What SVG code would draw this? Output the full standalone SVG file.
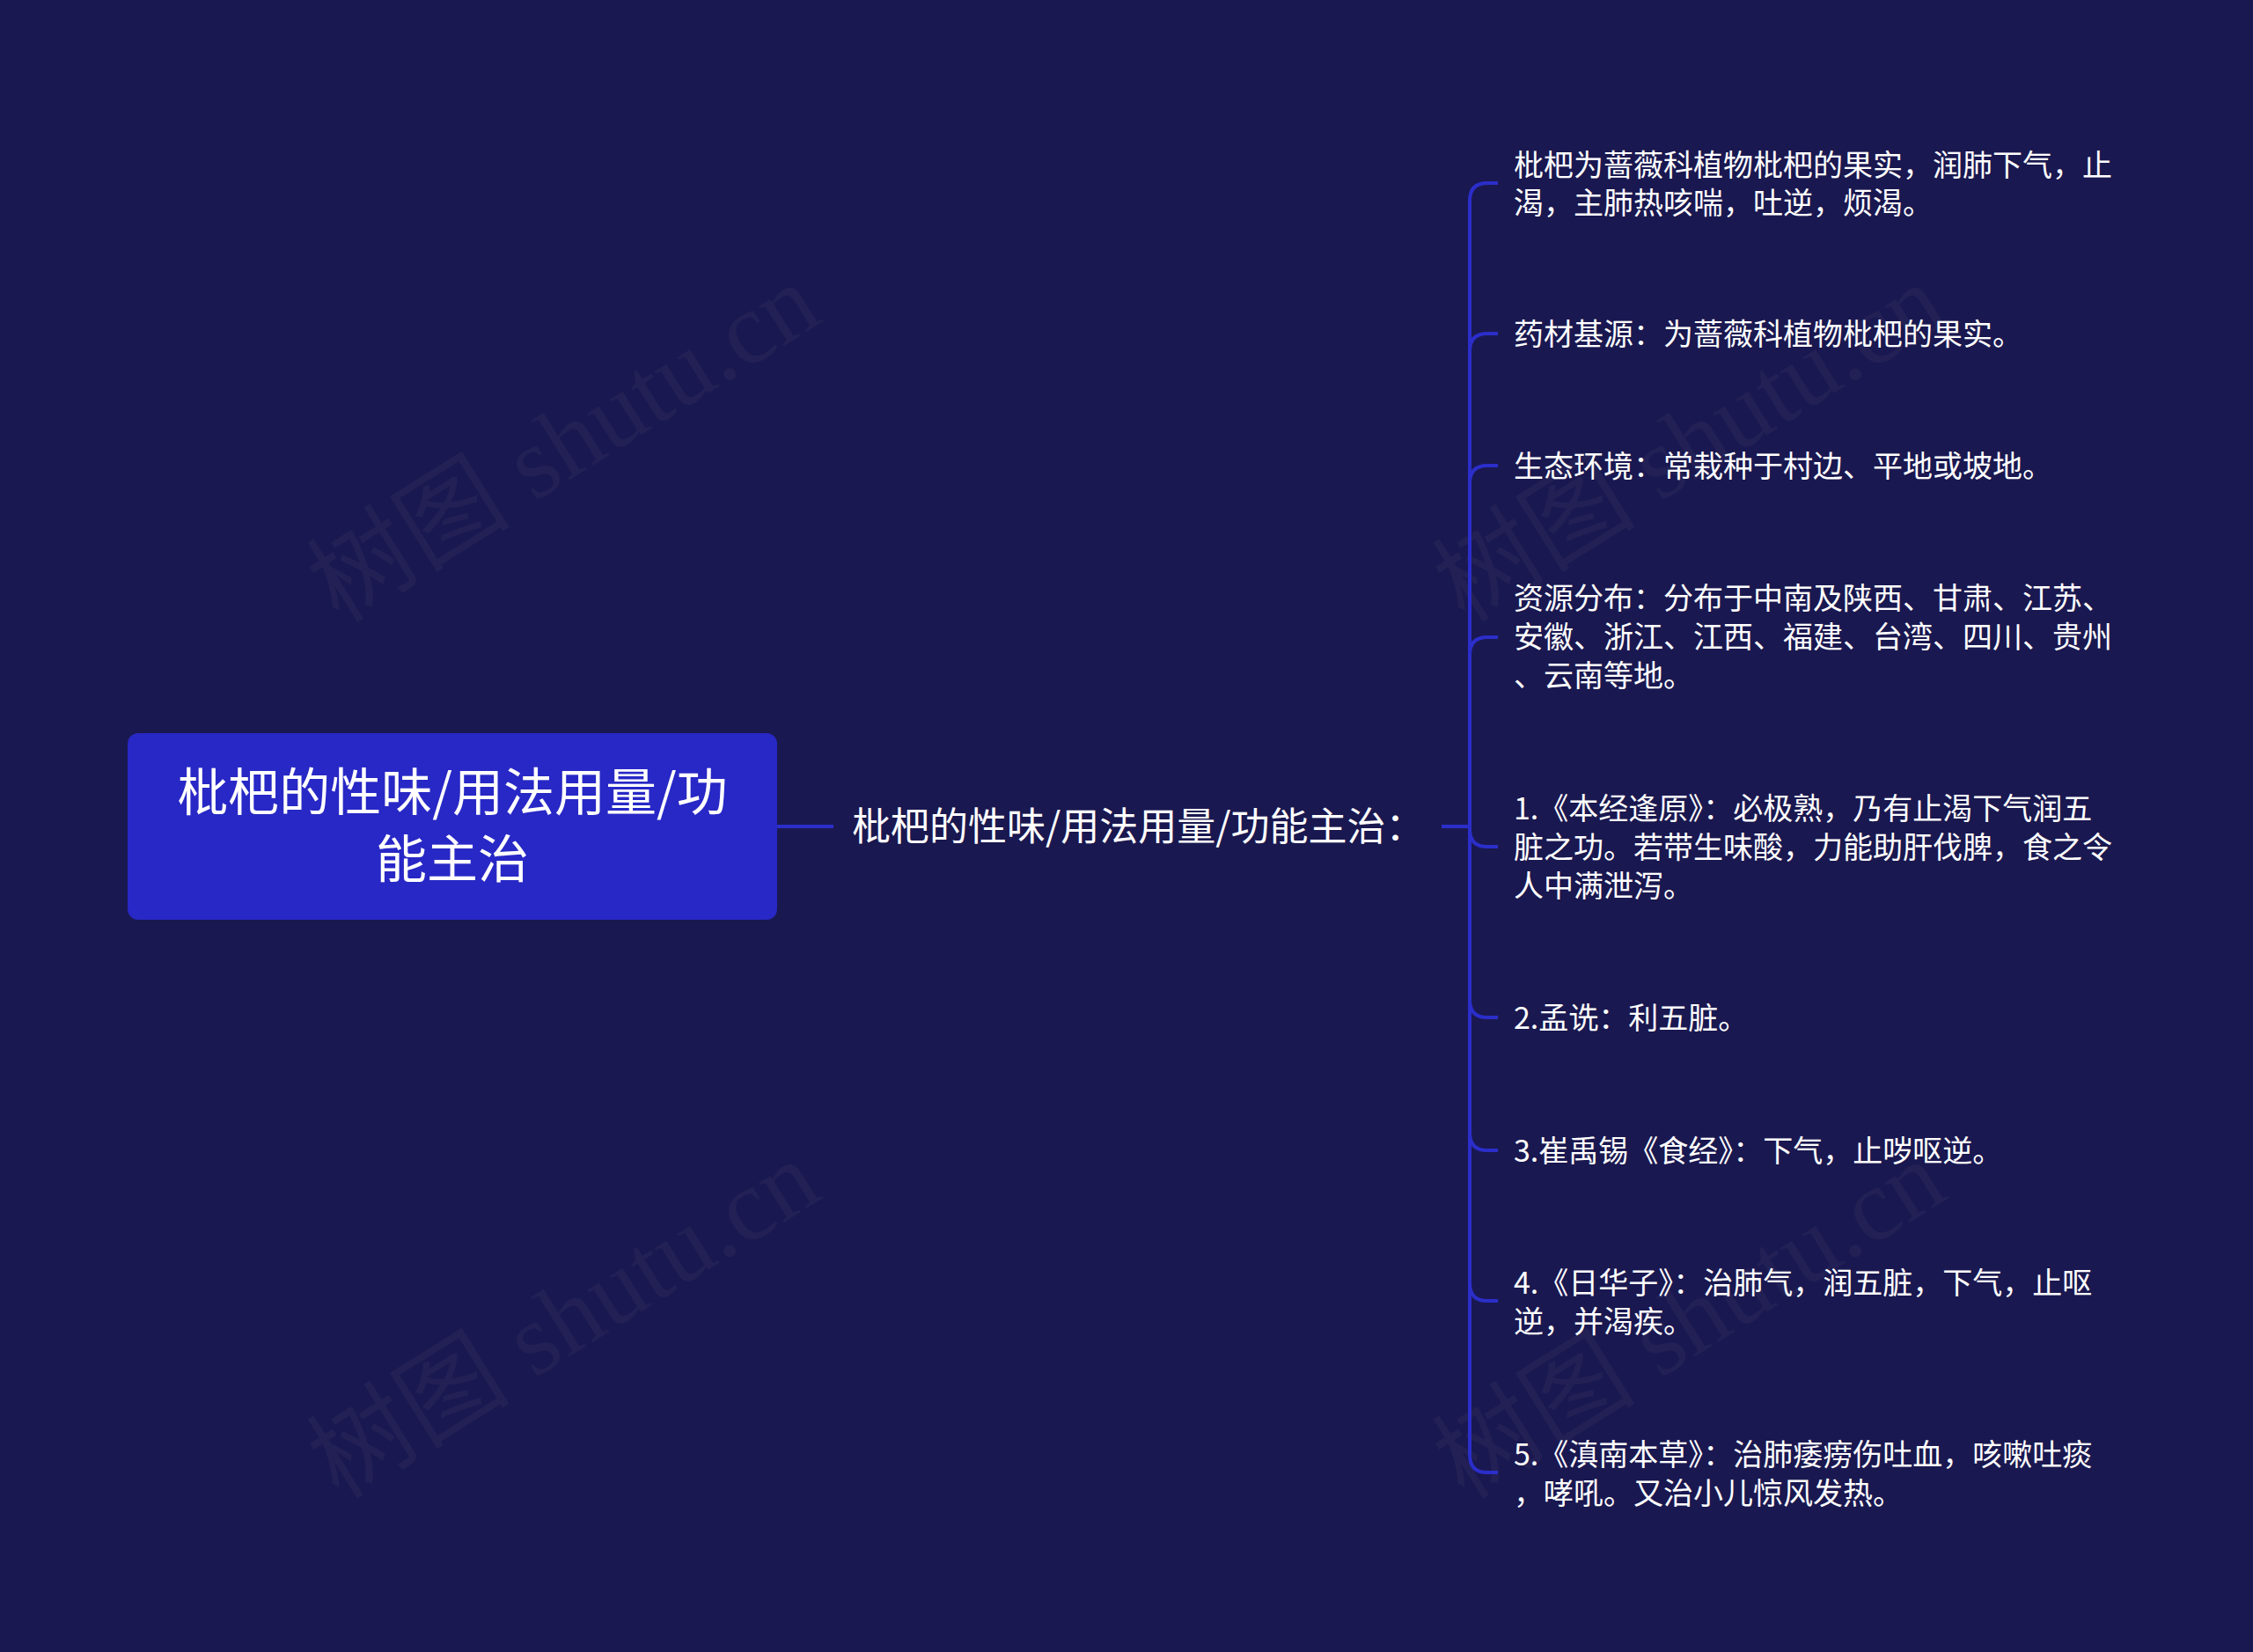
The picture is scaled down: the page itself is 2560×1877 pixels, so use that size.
<svg xmlns="http://www.w3.org/2000/svg" width="2560" height="1877" viewBox="0 0 2560 1877">
<style>
.bg{fill:#1a1850}
.wm{font-family:"Liberation Serif","Noto Sans CJK SC",serif;font-size:116px;fill:#8a8aa0;fill-opacity:0.07}
.root rect{fill:#2828c6}
.rt{font-family:"Noto Sans CJK SC","Noto Sans",sans-serif;font-size:58px;fill:#ffffff;text-anchor:middle}
.mt{font-family:"Noto Sans CJK SC","Noto Sans",sans-serif;font-size:44px;fill:#ffffff}
.lt{font-family:"Noto Sans CJK SC","Noto Sans",sans-serif;font-size:34px;fill:#ffffff}
.conn path{fill:none;stroke:#2b2ec9;stroke-width:4;stroke-linecap:butt}
</style>
<rect class="bg" x="0" y="0" width="2560" height="1877"/>
<g id="watermarks">
<text class="wm" transform="translate(647,514) rotate(-32)" text-anchor="middle" dominant-baseline="middle">树图 shutu.cn</text>
<text class="wm" transform="translate(1926,514) rotate(-32)" text-anchor="middle" dominant-baseline="middle">树图 shutu.cn</text>
<text class="wm" transform="translate(647,1510) rotate(-32)" text-anchor="middle" dominant-baseline="middle">树图 shutu.cn</text>
<text class="wm" transform="translate(1926,1510) rotate(-32)" text-anchor="middle" dominant-baseline="middle">树图 shutu.cn</text>
</g>
<g id="connectors" class="conn">
<path d="M883,939 H947"/>
<path d="M1638,939 H1670 V228 Q1670,208 1690,208 H1702"/>
<path d="M1638,939 H1670 V399 Q1670,379 1690,379 H1702"/>
<path d="M1638,939 H1670 V549 Q1670,529 1690,529 H1702"/>
<path d="M1638,939 H1670 V744 Q1670,724 1690,724 H1702"/>
<path d="M1638,939 H1670 V942 Q1670,962 1690,962 H1702"/>
<path d="M1638,939 H1670 V1136 Q1670,1156 1690,1156 H1702"/>
<path d="M1638,939 H1670 V1287 Q1670,1307 1690,1307 H1702"/>
<path d="M1638,939 H1670 V1458 Q1670,1478 1690,1478 H1702"/>
<path d="M1638,939 H1670 V1653 Q1670,1673 1690,1673 H1702"/>
</g>
<g id="root" class="root">
<rect x="145" y="833" width="738" height="212" rx="12" ry="12"/>
<text class="rt" x="514" y="921">枇杷的性味/用法用量/功</text>
<text class="rt" x="514" y="997">能主治</text>
</g>
<g id="main">
<text class="mt" x="968" y="955">枇杷的性味/用法用量/功能主治：</text>
</g>
<g id="leaf1"><text class="lt" x="1720" y="200">枇杷为蔷薇科植物枇杷的果实，润肺下气，止</text><text class="lt" x="1720" y="243">渴，主肺热咳喘，吐逆，烦渴。</text></g>
<g id="leaf2"><text class="lt" x="1720" y="392">药材基源：为蔷薇科植物枇杷的果实。</text></g>
<g id="leaf3"><text class="lt" x="1720" y="542">生态环境：常栽种于村边、平地或坡地。</text></g>
<g id="leaf4"><text class="lt" x="1720" y="692">资源分布：分布于中南及陕西、甘肃、江苏、</text><text class="lt" x="1720" y="736">安徽、浙江、江西、福建、台湾、四川、贵州</text><text class="lt" x="1720" y="780">、云南等地。</text></g>
<g id="leaf5"><text class="lt" x="1720" y="931">1.《本经逢原》：必极熟，乃有止渴下气润五</text><text class="lt" x="1720" y="975">脏之功。若带生味酸，力能助肝伐脾，食之令</text><text class="lt" x="1720" y="1019">人中满泄泻。</text></g>
<g id="leaf6"><text class="lt" x="1720" y="1169">2.孟诜：利五脏。</text></g>
<g id="leaf7"><text class="lt" x="1720" y="1320">3.崔禹锡《食经》：下气，止哕呕逆。</text></g>
<g id="leaf8"><text class="lt" x="1720" y="1470">4.《日华子》：治肺气，润五脏，下气，止呕</text><text class="lt" x="1720" y="1514">逆，并渴疾。</text></g>
<g id="leaf9"><text class="lt" x="1720" y="1665">5.《滇南本草》：治肺痿痨伤吐血，咳嗽吐痰</text><text class="lt" x="1720" y="1709">，哮吼。又治小儿惊风发热。</text></g>
</svg>
